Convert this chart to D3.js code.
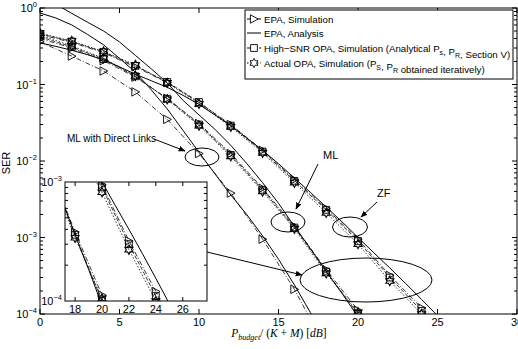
<!DOCTYPE html>
<html>
<head>
<meta charset="utf-8">
<script src="https://cdn.jsdelivr.net/npm/d3@7"></script>
<style>
body { margin:0; background:#fff; }
text { font-family:"Liberation Sans", Arial, sans-serif; }
</style>
</head>
<body>
<svg id="chart" width="518" height="349"></svg>
<script>
// SNR points (dB) of the simulations and of the analysis curves
var simSnr = [0, 2, 4, 6, 8, 10, 12, 14, 16, 18, 20, 22, 24, 26];
var anaSnr = [0, 1, 2, 3, 4, 5, 6, 7, 8, 9, 10, 11, 12, 13, 14, 15, 16, 17, 18, 19, 20, 21, 22, 23, 24, 25, 26];

// ML with direct links
var dlEpaSim = [0.36, 0.235, 0.15, 0.08, 0.035, 0.0125, 0.0038, 0.00095, 0.00021, 0.000035];
var dlEpaAna = [0.86, 0.74, 0.6, 0.45, 0.33, 0.22, 0.145, 0.085, 0.048, 0.025, 0.013, 0.0068, 0.0036,
                0.002, 0.00105, 0.00052, 0.00024, 0.000105, 0.000046];
// ML
var mlEpaSim = [0.40, 0.30, 0.205, 0.125, 0.066, 0.031, 0.0125, 0.0044, 0.0014, 0.00038, 0.000112, 0.000028];
var mlHsnrOpa = [0.42, 0.31, 0.215, 0.128, 0.065, 0.030, 0.012, 0.0042, 0.00135, 0.00036, 0.0001, 0.000025];
var mlActOpa = [0.44, 0.32, 0.22, 0.13, 0.064, 0.029, 0.0115, 0.004, 0.0013, 0.00034, 0.000105, 0.000024];
var mlEpaAna = [1.35, 1.12, 0.85, 0.65, 0.5, 0.36, 0.24, 0.16, 0.105, 0.062, 0.04, 0.026, 0.016, 0.0093,
                0.0052, 0.0028, 0.0014, 0.00072, 0.00036, 0.000185, 0.000092, 0.000046];
// ZF
var zfEpaSim = [0.45, 0.355, 0.26, 0.17, 0.106, 0.058, 0.030, 0.0138, 0.0057, 0.0024, 0.00095, 0.00032, 0.00012, 0.00004];
var zfHsnrOpa = [0.46, 0.365, 0.265, 0.175, 0.108, 0.059, 0.029, 0.0133, 0.0055, 0.0023, 0.0009, 0.0003, 0.00011, 0.000037];
var zfActOpa = [0.47, 0.37, 0.27, 0.18, 0.105, 0.056, 0.028, 0.0128, 0.0052, 0.0021, 0.00082, 0.00027, 0.0001, 0.000034];
var zfEpaAna = [0.35, 0.315, 0.28, 0.245, 0.21, 0.17, 0.136, 0.112, 0.092, 0.072, 0.055, 0.04, 0.029, 0.02,
                0.0138, 0.0092, 0.006, 0.0039, 0.0025, 0.0016, 0.001, 0.00063, 0.0004, 0.00025, 0.000155,
                0.000095, 0.00006];

var xTicks = [0, 5, 10, 15, 20, 25, 30];
var yTicks = [1e-4, 1e-3, 1e-2, 1e-1, 1];
var insetXTicks = [18, 20, 22, 24, 26];
var insetYTicks = [1e-4, 1e-3];

var legendLabels = [
  [["EPA, Simulation"]],
  [["EPA, Analysis"]],
  [["High\u2212SNR OPA, Simulation (Analytical P"], ["s", "sub"], [", P"], ["R", "sub"], [", Section V)"]],
  [["Actual OPA, Simulation (P"], ["S", "sub"], [", P"], ["R", "sub"], [" obtained iteratively)"]]
];

var svg = d3.select("#chart");
var L = 40, R = 517, T = 8, B = 314;
var x = d3.scaleLinear().domain([0, 30]).range([L, R]);
var y = d3.scaleLog().domain([1e-4, 1]).range([B, T]);

// inset
var iL = 65, iR = 207, iT = 182, iB = 301;
var xi = d3.scaleLinear().domain([17.25, 27.8]).range([iL, iR]);
var yi = d3.scaleLog().domain([1e-4, 1e-3]).range([iB, iT]);

var dashEpa = "5,2,1,2", dashHsnr = "4,2", dashAct = "1.5,1.8";

var series = [
  {snr: simSnr, ser: dlEpaSim, dash: dashEpa, mark: "tri"},
  {snr: anaSnr, ser: dlEpaAna, dash: null, mark: null},
  {snr: simSnr, ser: mlEpaSim, dash: dashEpa, mark: "tri"},
  {snr: simSnr, ser: mlHsnrOpa, dash: dashHsnr, mark: "sq"},
  {snr: simSnr, ser: mlActOpa, dash: dashAct, mark: "hex"},
  {snr: anaSnr, ser: mlEpaAna, dash: null, mark: null},
  {snr: simSnr, ser: zfEpaSim, dash: dashEpa, mark: "tri"},
  {snr: simSnr, ser: zfHsnrOpa, dash: dashHsnr, mark: "sq"},
  {snr: simSnr, ser: zfActOpa, dash: dashAct, mark: "hex"},
  {snr: anaSnr, ser: zfEpaAna, dash: null, mark: null}
];

var defs = svg.append("defs");
defs.append("clipPath").attr("id", "clipMain").append("rect")
  .attr("x", L).attr("y", T).attr("width", R - L).attr("height", B - T);
defs.append("clipPath").attr("id", "clipInset").append("rect")
  .attr("x", iL).attr("y", iT).attr("width", iR - iL).attr("height", iB - iT);
defs.append("marker").attr("id", "arr").attr("viewBox", "0 0 10 10")
  .attr("refX", 9).attr("refY", 5).attr("markerWidth", 7).attr("markerHeight", 7)
  .attr("orient", "auto").attr("markerUnits", "userSpaceOnUse")
  .append("path").attr("d", "M0,1L10,5L0,9Z").attr("fill", "#000");

// hexagram path
var hexPts = [];
for (var k = 0; k < 12; k++) {
  var a = -Math.PI / 2 + k * Math.PI / 6, r = (k % 2 == 0) ? 4.6 : 2.6;
  hexPts.push([r * Math.cos(a), r * Math.sin(a)]);
}
var hexPath = "M" + hexPts.map(function (p) { return p[0].toFixed(2) + "," + p[1].toFixed(2); }).join("L") + "Z";
var markPaths = {
  tri: "M-3.6,-4.2L4.2,0L-3.6,4.2Z",
  sq: "M-3.4,-3.4L3.4,-3.4L3.4,3.4L-3.4,3.4Z",
  hex: hexPath
};

function drawAll(g, sx, sy) {
  series.forEach(function (s) {
    var pts = s.ser.map(function (v, i) { return [sx(s.snr[i]), sy(v)]; });
    g.append("path").attr("d", d3.line()(pts))
      .attr("fill", "none").attr("stroke", s.dash ? "#222" : "#000")
      .attr("stroke-width", s.dash ? 0.9 : 1)
      .attr("stroke-dasharray", s.dash);
    if (s.mark) {
      g.selectAll(null).data(pts).enter().append("path")
        .attr("d", markPaths[s.mark])
        .attr("transform", function (p) { return "translate(" + p[0] + "," + p[1] + ")"; })
        .attr("fill", "none").attr("stroke", "#000").attr("stroke-width", s.mark == "hex" ? 1.1 : 0.9);
    }
  });
}

function powLabel(g, px, py, exp, size) {
  var t = g.append("text").attr("x", px).attr("y", py).attr("text-anchor", "end")
    .attr("font-size", size);
  t.append("tspan").text("10");
  t.append("tspan").attr("dy", -5).attr("font-size", size * 0.68).text(exp);
}

// main plot
var plot = svg.append("g").attr("clip-path", "url(#clipMain)");
drawAll(plot, x, y);

// main axes box and ticks
var ax = svg.append("g").attr("stroke", "#000").attr("stroke-width", 1);
ax.append("rect").attr("x", L).attr("y", T).attr("width", R - L).attr("height", B - T).attr("fill", "none");
xTicks.forEach(function (v) {
  ax.append("line").attr("x1", x(v)).attr("x2", x(v)).attr("y1", B).attr("y2", B - 5);
  ax.append("line").attr("x1", x(v)).attr("x2", x(v)).attr("y1", T).attr("y2", T + 5);
  svg.append("text").attr("x", x(v)).attr("y", B + 12).attr("text-anchor", "middle")
    .attr("font-size", 11).text(v);
});
yTicks.forEach(function (v, i) {
  ax.append("line").attr("x1", L).attr("x2", L + 5).attr("y1", y(v)).attr("y2", y(v));
  ax.append("line").attr("x1", R).attr("x2", R - 5).attr("y1", y(v)).attr("y2", y(v));
  powLabel(svg, 37, y(v) + 4, Math.log10(v) == 0 ? "0" : "\u2212" + (-Math.round(Math.log10(v))), 11);
  if (v < 1) {
    for (var m = 2; m < 10; m++) {
      var yy = y(v * m);
      ax.append("line").attr("x1", L).attr("x2", L + 3).attr("y1", yy).attr("y2", yy);
      ax.append("line").attr("x1", R).attr("x2", R - 3).attr("y1", yy).attr("y2", yy);
    }
  }
});

// axis titles
svg.append("text").attr("transform", "translate(10,163) rotate(-90)").attr("text-anchor", "middle")
  .attr("font-size", 11).text("SER");
var xl = svg.append("text").attr("x", 279).attr("y", 337).attr("text-anchor", "middle")
  .attr("font-size", 11.5).style("font-family", "'Liberation Serif', serif");
xl.append("tspan").attr("font-style", "italic").text("P");
xl.append("tspan").attr("font-style", "italic").attr("font-size", 8).attr("dy", 3).text("budget");
xl.append("tspan").attr("dy", -3).text("/ (");
xl.append("tspan").attr("font-style", "italic").text("K");
xl.append("tspan").text(" + ");
xl.append("tspan").attr("font-style", "italic").text("M");
xl.append("tspan").text(") [");
xl.append("tspan").attr("font-style", "italic").text("dB");
xl.append("tspan").text("]");

// annotations
var an = svg.append("g").attr("stroke", "#000").attr("stroke-width", 1).attr("fill", "none");
svg.append("text").attr("x", 67).attr("y", 142).attr("font-size", 10).text("ML with Direct Links");
an.append("line").attr("x1", 154).attr("y1", 139).attr("x2", 185).attr("y2", 151).attr("marker-end", "url(#arr)");
an.append("ellipse").attr("cx", 202).attr("cy", 157).attr("rx", 17).attr("ry", 9);
svg.append("text").attr("x", 323).attr("y", 159).attr("font-size", 11).text("ML");
an.append("line").attr("x1", 318).attr("y1", 164).attr("x2", 296).attr("y2", 209).attr("marker-end", "url(#arr)");
an.append("ellipse").attr("cx", 288).attr("cy", 222).attr("rx", 17).attr("ry", 10);
svg.append("text").attr("x", 377).attr("y", 197).attr("font-size", 11).text("ZF");
an.append("line").attr("x1", 377).attr("y1", 202).attr("x2", 361).attr("y2", 217).attr("marker-end", "url(#arr)");
an.append("ellipse").attr("cx", 350).attr("cy", 227).attr("rx", 17.5).attr("ry", 10);
an.append("ellipse").attr("cx", 366).attr("cy", 280).attr("rx", 66).attr("ry", 22);
an.append("line").attr("x1", iR).attr("y1", 252).attr("x2", 302).attr("y2", 275).attr("marker-end", "url(#arr)");

// inset
svg.append("rect").attr("x", iL).attr("y", iT).attr("width", iR - iL).attr("height", iB - iT).attr("fill", "#fff");
var ins = svg.append("g").attr("clip-path", "url(#clipInset)");
drawAll(ins, xi, yi);
var iax = svg.append("g").attr("stroke", "#000").attr("stroke-width", 1);
iax.append("rect").attr("x", iL).attr("y", iT).attr("width", iR - iL).attr("height", iB - iT).attr("fill", "none");
insetXTicks.forEach(function (v) {
  iax.append("line").attr("x1", xi(v)).attr("x2", xi(v)).attr("y1", iB).attr("y2", iB - 4);
  iax.append("line").attr("x1", xi(v)).attr("x2", xi(v)).attr("y1", iT).attr("y2", iT + 4);
  svg.append("text").attr("x", xi(v)).attr("y", iB + 12).attr("text-anchor", "middle")
    .attr("font-size", 11).text(v);
});
insetYTicks.forEach(function (v) {
  powLabel(svg, iL - 3, yi(v) + 4, "\u2212" + (-Math.round(Math.log10(v))), 11);
});
for (var m = 2; m < 10; m++) {
  var yy = yi(1e-4 * m);
  iax.append("line").attr("x1", iL).attr("x2", iL + 3).attr("y1", yy).attr("y2", yy);
  iax.append("line").attr("x1", iR).attr("x2", iR - 3).attr("y1", yy).attr("y2", yy);
}

// legend
var lg = svg.append("g");
lg.append("rect").attr("x", 245).attr("y", 10).attr("width", 268).attr("height", 69)
  .attr("fill", "#fff").attr("stroke", "#000").attr("stroke-width", 1);
var legStyles = [
  {dash: dashEpa, mark: "tri"}, {dash: null, mark: null},
  {dash: dashHsnr, mark: "sq"}, {dash: dashAct, mark: "hex"}
];
var legY = [19, 33, 48, 63];
legendLabels.forEach(function (parts, i) {
  var ly = legY[i];
  lg.append("line").attr("x1", 247).attr("x2", 261).attr("y1", ly).attr("y2", ly)
    .attr("stroke", "#000").attr("stroke-width", 1).attr("stroke-dasharray", legStyles[i].dash);
  if (legStyles[i].mark) {
    lg.append("path").attr("d", markPaths[legStyles[i].mark])
      .attr("transform", "translate(254," + ly + ")")
      .attr("fill", "#fff").attr("stroke", "#000").attr("stroke-width", 0.9);
  }
  var t = lg.append("text").attr("x", 264).attr("y", ly + 4).attr("font-size", 9.7);
  parts.forEach(function (p) {
    if (p[1] == "sub") {
      t.append("tspan").attr("dy", 3).attr("font-size", 7).text(p[0]);
      t.append("tspan").attr("dy", -3).text("");
    } else {
      t.append("tspan").text(p[0]);
    }
  });
});
</script>
</body>
</html>
